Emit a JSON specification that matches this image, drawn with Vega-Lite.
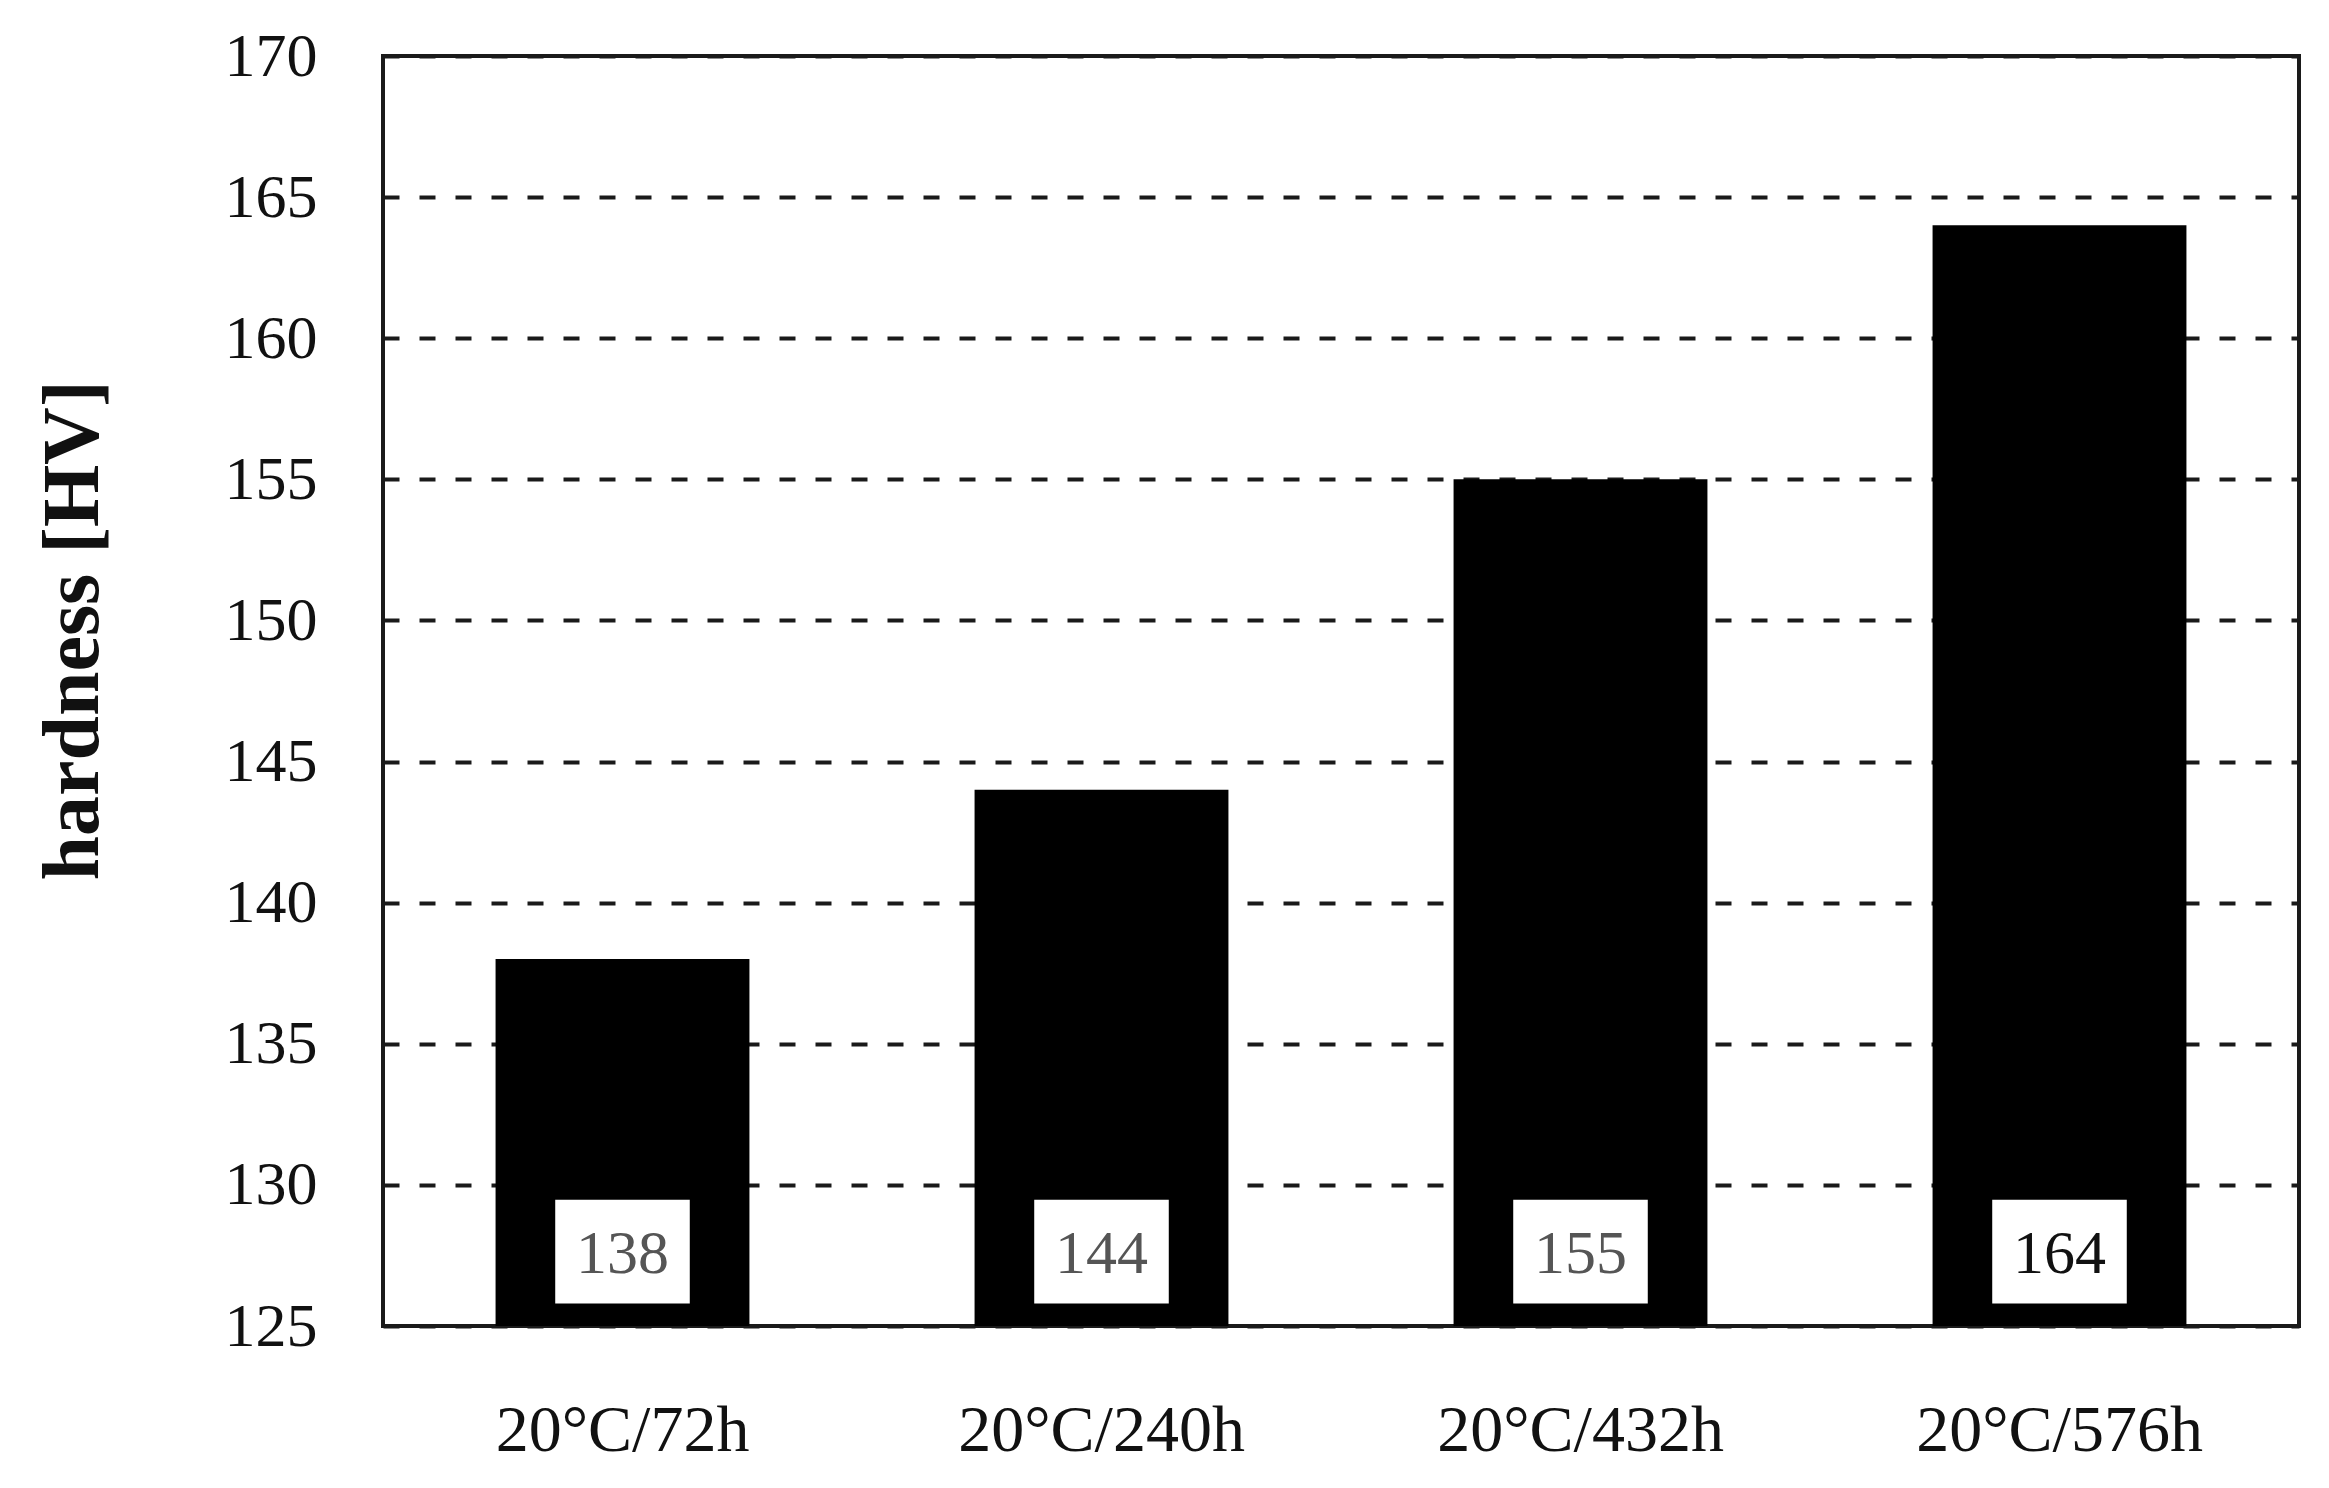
{
  "$schema": "https://vega.github.io/schema/vega-lite/v6.json",
  "autosize": {"type": "none"},
  "width": 1916,
  "height": 1270,
  "padding": {"left": 383, "top": 56, "right": 30, "bottom": 162},
  "background": "white",
  "config": {
    "view": {"stroke": "#1a1a1a", "strokeWidth": 4},
    "font": "Liberation Serif"
  },
  "data": {
    "values": [
      {"condition": "20°C/72h", "hardness": 138},
      {"condition": "20°C/240h", "hardness": 144},
      {"condition": "20°C/432h", "hardness": 155},
      {"condition": "20°C/576h", "hardness": 164}
    ]
  },
  "encoding": {
    "x": {
      "field": "condition",
      "type": "nominal",
      "sort": null,
      "scale": {"paddingInner": 0.47, "paddingOuter": 0.235},
      "axis": {
        "title": null,
        "labelAngle": 0,
        "labelFont": "Liberation Serif",
        "labelFontSize": 66,
        "labelColor": "#111",
        "labelPadding": 72,
        "labelLimit": 0,
        "ticks": false,
        "domain": false,
        "grid": false
      }
    }
  },
  "layer": [
    {
      "mark": {"type": "bar", "color": "#000000"},
      "encoding": {
        "y": {
          "field": "hardness",
          "type": "quantitative",
          "scale": {"domain": [125, 170], "nice": false, "zero": false},
          "axis": {
            "title": "hardness [HV]",
            "titleFont": "Liberation Serif",
            "titleFontSize": 80,
            "titleFontWeight": "bold",
            "titleColor": "#111",
            "titleAngle": -90,
            "titleAlign": "center",
            "titleBaseline": "middle",
            "titleX": -310,
            "titleY": 574,
            "values": [125, 130, 135, 140, 145, 150, 155, 160, 165, 170],
            "labelFont": "Liberation Serif",
            "labelFontSize": 62,
            "labelColor": "#111",
            "labelPadding": 66,
            "ticks": false,
            "domain": false,
            "grid": true,
            "gridColor": "#1a1a1a",
            "gridWidth": 4,
            "gridDash": [16, 20],
            "gridOpacity": 1
          }
        },
        "y2": {"datum": 125}
      }
    },
    {
      "mark": {"type": "bar", "color": "#ffffff", "width": {"band": 0.53}},
      "encoding": {
        "y": {"datum": 125.8, "type": "quantitative"},
        "y2": {"datum": 129.47}
      }
    },
    {
      "mark": {"type": "text", "font": "Liberation Serif", "fontSize": 62, "baseline": "middle", "align": "center"},
      "encoding": {
        "y": {"datum": 127.55, "type": "quantitative"},
        "text": {"field": "hardness", "type": "quantitative"},
        "color": {
          "condition": {"test": "datum.hardness < 160", "value": "#555555"},
          "value": "#111111"
        }
      }
    }
  ]
}
